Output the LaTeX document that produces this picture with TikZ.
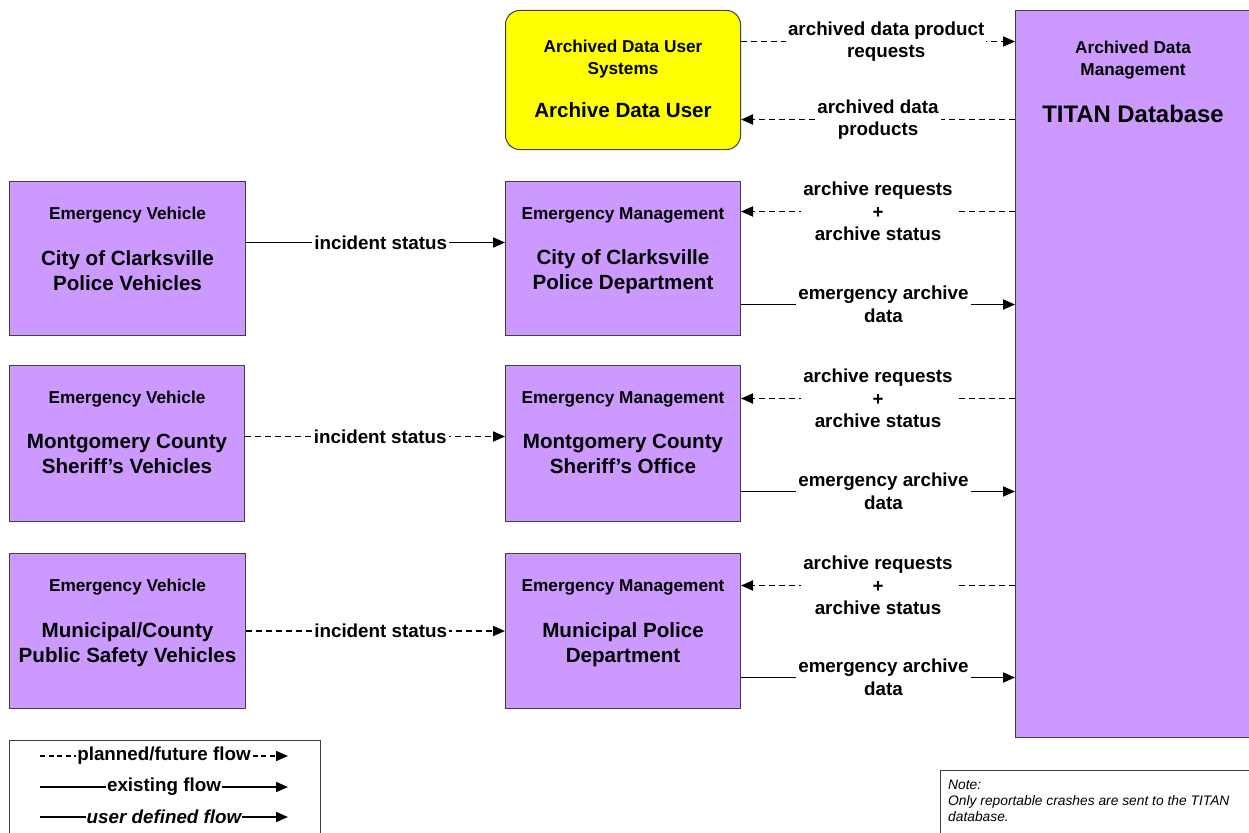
\documentclass[tikz,border=0pt]{standalone}
\usepackage{fontspec}
\setmainfont{Liberation Sans}
\usetikzlibrary{arrows.meta}
\definecolor{boxpurple}{HTML}{CC99FF}
\definecolor{boxyellow}{HTML}{FFFF00}
\definecolor{edgec}{HTML}{404040}
\begin{document}
\begin{tikzpicture}[x=1pt,y=-1pt,
  box/.style={draw=edgec, fill=boxpurple, line width=1pt, anchor=north west, inner sep=0pt},
  sub/.style={font=\fontsize{17.2}{21.5}\selectfont\bfseries, align=center, inner sep=0pt},
  ttl/.style={font=\fontsize{20.6}{25}\selectfont\bfseries, align=center, inner sep=0pt},
  lbl/.style={font=\fontsize{18.8}{22.5}\selectfont\bfseries, align=center, fill=white, inner xsep=2pt, inner ysep=1pt},
  flow/.style={line width=1.8pt, -{Triangle[length=12pt,width=10pt]}},
  plan/.style={flow, dash pattern=on 6pt off 4pt},
  frame/.style={draw=edgec, line width=1pt, anchor=north west, inner sep=0pt},
]
\useasboundingbox (0,0) rectangle (1249,832);

% boxes
\node[box, fill=boxyellow, rounded corners=14pt, minimum width=235pt, minimum height=139pt] (adu) at (505,10) {};
\node[box, minimum width=235pt, minimum height=727pt] (titan) at (1015,10) {};
\node[box, minimum width=236pt, minimum height=154pt] (ev1) at (9,181) {};
\node[box, minimum width=235pt, minimum height=156pt] (ev2) at (9,365) {};
\node[box, minimum width=236pt, minimum height=155pt] (ev3) at (9,553) {};
\node[box, minimum width=235pt, minimum height=154pt] (em1) at (505,181) {};
\node[box, minimum width=235pt, minimum height=156pt] (em2) at (505,365) {};
\node[box, minimum width=235pt, minimum height=155pt] (em3) at (505,553) {};

% box texts
\node[sub] (adus) at ([yshift=-49pt]adu.north) {Archived Data User\\Systems};
\node[ttl] (adut) at ([yshift=-100pt]adu.north) {Archive Data User};
\node[sub] (titans) at ([yshift=-50pt]titan.north) {Archived Data\\Management};
\node[font=\fontsize{23.9}{28}\selectfont\bfseries, inner sep=0pt] (titant) at ([yshift=-104pt]titan.north) {TITAN Database};

\node[sub] (ev1s) at ([yshift=-34.5pt]ev1.north) {Emergency Vehicle};
\node[ttl] (ev1t) at ([yshift=-90pt]ev1.north) {City of Clarksville\\Police Vehicles};
\node[sub] (ev2s) at ([yshift=-34pt]ev2.north) {Emergency Vehicle};
\node[ttl] (ev2t) at ([yshift=-89pt]ev2.north) {Montgomery County\\Sheriff’s Vehicles};
\node[sub] (ev3s) at ([yshift=-34.5pt]ev3.north) {Emergency Vehicle};
\node[ttl] (ev3t) at ([yshift=-92pt]ev3.north) {Municipal/County\\Public Safety Vehicles};

\node[sub] (em1s) at ([yshift=-34.5pt]em1.north) {Emergency Management};
\node[ttl] (em1t) at ([yshift=-91pt]em1.north) {City of Clarksville\\Police Department};
\node[sub] (em2s) at ([yshift=-34pt]em2.north) {Emergency Management};
\node[ttl] (em2t) at ([yshift=-89pt]em2.north) {Montgomery County\\Sheriff’s Office};
\node[sub] (em3s) at ([yshift=-34.5pt]em3.north) {Emergency Management};
\node[ttl] (em3t) at ([yshift=-92pt]em3.north) {Municipal Police\\Department};

% top flows
\draw[plan] ([yshift=38.5pt]adu.east) -- ([yshift=38.5pt]adu.east -| titan.west)
  node[lbl, pos=0.53] {archived data product\\requests};
\draw[plan] ([yshift=-39.5pt]adu.east -| titan.west) -- ([yshift=-39.5pt]adu.east)
  node[lbl, midway] {archived data\\products};

% row 1
\draw[flow] ([yshift=16pt]ev1.east) -- ([yshift=16pt]ev1.east -| em1.west)
  node[lbl, pos=0.52, inner ysep=0pt] {incident status};
\draw[plan] ([yshift=47pt]em1.east -| titan.west) -- ([yshift=47pt]em1.east)
  node[lbl, midway] {archive requests\\+\\archive status};
\draw[flow] ([yshift=-46pt]em1.east) -- ([yshift=-46pt]em1.east -| titan.west)
  node[lbl, pos=0.52] {emergency archive\\data};

% row 2
\draw[plan] ([yshift=7pt]ev2.east) -- ([yshift=7pt]ev2.east -| em2.west)
  node[lbl, pos=0.52, inner ysep=0pt] {incident status};
\draw[plan] ([yshift=45pt]em2.east -| titan.west) -- ([yshift=45pt]em2.east)
  node[lbl, midway] {archive requests\\+\\archive status};
\draw[flow] ([yshift=-48pt]em2.east) -- ([yshift=-48pt]em2.east -| titan.west)
  node[lbl, pos=0.52] {emergency archive\\data};

% row 3
\draw[plan] ([yshift=0pt]ev3.east) -- ([yshift=0pt]ev3.east -| em3.west)
  node[lbl, pos=0.52, inner ysep=0pt] {incident status};
\draw[plan] ([yshift=45.5pt]em3.east -| titan.west) -- ([yshift=45.5pt]em3.east)
  node[lbl, midway] {archive requests\\+\\archive status};
\draw[flow] ([yshift=-46.5pt]em3.east) -- ([yshift=-46.5pt]em3.east -| titan.west)
  node[lbl, pos=0.52] {emergency archive\\data};

% legend
\node[frame, minimum width=311pt, minimum height=100pt] (legend) at (9,740) {};
\coordinate (l1a) at (40,756); \coordinate (l1b) at (288,756);
\coordinate (l2a) at (40,787); \coordinate (l2b) at (288,787);
\coordinate (l3a) at (40,817); \coordinate (l3b) at (288,817);
\draw[flow, dash pattern=on 5pt off 3.5pt] (l1a) -- (l1b)
  node[lbl, midway, inner xsep=1pt, inner ysep=0pt] {planned/future flow};
\draw[flow] (l2a) -- (l2b)
  node[lbl, midway, inner xsep=1pt, inner ysep=0pt] {existing flow};
\draw[flow] (l3a) -- (l3b)
  node[lbl, midway, inner xsep=1pt, inner ysep=0pt, font=\fontsize{18.8}{22.5}\selectfont\bfseries\itshape] {user defined flow};

% note
\node[frame, minimum width=320pt, minimum height=80pt] (notebox) at (940,770) {};
\node[anchor=north west, align=left, inner sep=0pt, font=\fontsize{13.8}{16}\selectfont\itshape] (note) at (948,780)
  {Note:\\Only reportable crashes are sent to the TITAN\\database.};
\end{tikzpicture}
\end{document}
